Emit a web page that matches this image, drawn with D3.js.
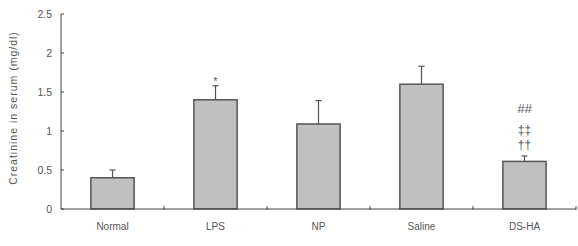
<!DOCTYPE html>
<html>
<head>
<meta charset="utf-8">
<script src="https://cdn.jsdelivr.net/npm/d3@7"></script>
<style>
  body { margin: 0; background: #fff; }
  text { font-family: Arial, "Liberation Sans", sans-serif; fill: #555; }
</style>
</head>
<body>
<svg id="chart" width="578" height="246"></svg>
<script>
const groups = ["Normal", "LPS", "NP", "Saline", "DS-HA"];
const means = [0.40, 1.40, 1.09, 1.60, 0.61];
const errors = [0.10, 0.18, 0.30, 0.23, 0.07];
const marks = [[], ["*"], [], [], ["††", "‡‡", "##"]];
const yTicks = [0, 0.5, 1, 1.5, 2, 2.5];

const svg = d3.select("#chart");
const margin = {left: 61, right: 2, top: 14, bottom: 37};
const width = 578 - margin.left - margin.right;
const height = 246 - margin.top - margin.bottom;

const g = svg.append("g").attr("transform", `translate(${margin.left},${margin.top})`);

const x = d3.scaleBand().domain(groups).range([0, width]).paddingInner(0.58).paddingOuter(0.29);
const y = d3.scaleLinear().domain([0, 2.5]).range([height, 0]);

// y axis
g.append("line").attr("x1", 0).attr("x2", 0).attr("y1", 0).attr("y2", height)
  .attr("stroke", "#444").attr("stroke-width", 1);
g.selectAll(".ytick").data(yTicks).enter().append("line")
  .attr("x1", 0).attr("x2", 3)
  .attr("y1", d => y(d)).attr("y2", d => y(d))
  .attr("stroke", "#444");
g.selectAll(".ylab").data(yTicks).enter().append("text")
  .attr("x", -9).attr("y", d => y(d)).attr("dy", "0.35em")
  .attr("text-anchor", "end").attr("font-size", 10.5)
  .text(d => d);

// bars
g.selectAll(".bar").data(groups).enter().append("rect")
  .attr("x", d => x(d)).attr("width", x.bandwidth())
  .attr("y", (d, i) => y(means[i])).attr("height", (d, i) => height - y(means[i]))
  .attr("fill", "#c0c0c0").attr("stroke", "#555").attr("stroke-width", 1.5);

// error bars
const cx = d => x(d) + x.bandwidth() / 2;
g.selectAll(".err").data(groups).enter().append("line")
  .attr("x1", cx).attr("x2", cx)
  .attr("y1", (d, i) => y(means[i])).attr("y2", (d, i) => y(means[i] + errors[i]))
  .attr("stroke", "#555").attr("stroke-width", 1.2);
g.selectAll(".cap").data(groups).enter().append("line")
  .attr("x1", d => cx(d) - 3).attr("x2", d => cx(d) + 3)
  .attr("y1", (d, i) => y(means[i] + errors[i])).attr("y2", (d, i) => y(means[i] + errors[i]))
  .attr("stroke", "#555").attr("stroke-width", 1.2);

// x axis
g.append("line").attr("x1", 0).attr("x2", width).attr("y1", height).attr("y2", height)
  .attr("stroke", "#444").attr("stroke-width", 1);
const step = x.step();
g.selectAll(".xtick").data(groups).enter().append("line")
  .attr("x1", (d, i) => (i + 1) * step).attr("x2", (d, i) => (i + 1) * step)
  .attr("y1", height - 3).attr("y2", height + 1)
  .attr("stroke", "#444");
g.selectAll(".xlab").data(groups).enter().append("text")
  .attr("x", cx).attr("y", height + 21)
  .attr("text-anchor", "middle").attr("font-size", 10)
  .text(d => d);

// significance marks, stacked upward from the error cap
const markOffset = [7, 22, 43];
const markSize = [12, 12, 13];
groups.forEach((d, i) => {
  const top = y(means[i] + errors[i]);
  marks[i].forEach((m, j) => {
    const single = marks[i].length === 1;
    g.append("text")
      .attr("x", cx(d)).attr("y", top - (single ? 1 : markOffset[j]))
      .attr("text-anchor", "middle").attr("font-size", single ? 11 : markSize[j])
      .attr("font-style", m === "##" ? "italic" : null)
      .text(m);
  });
});

// y label
svg.append("text")
  .attr("transform", "translate(17,108) rotate(-90)")
  .attr("text-anchor", "middle").attr("font-size", 10.5)
  .attr("letter-spacing", "1px")
  .text("Creatinine in serum  (mg/dl)");
</script>
</body>
</html>
